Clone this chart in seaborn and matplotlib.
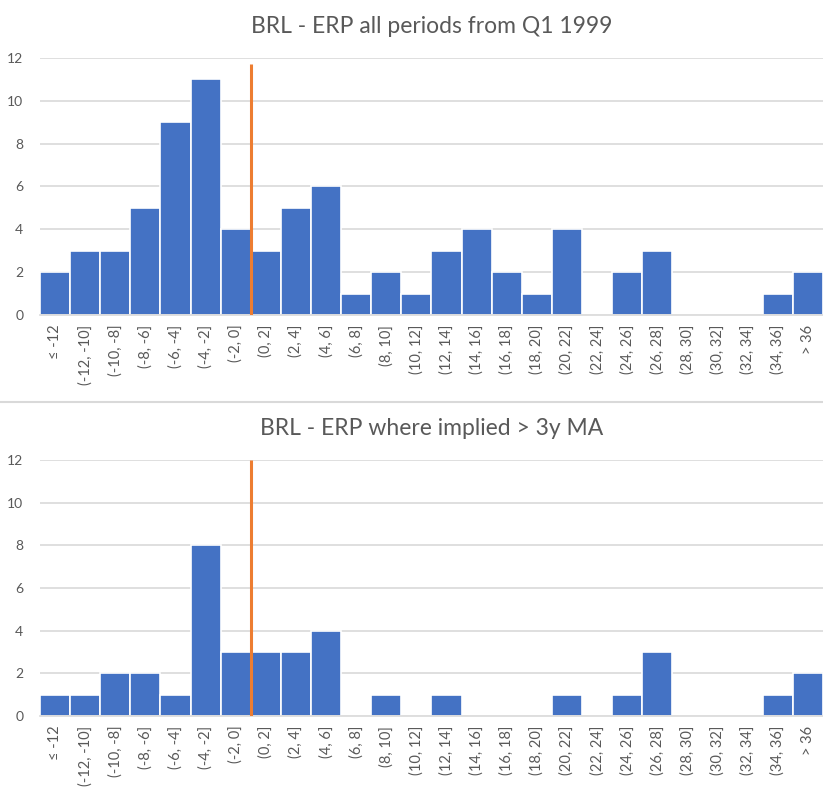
import numpy as np
import pandas as pd
import matplotlib
matplotlib.use("Agg")
import matplotlib.pyplot as plt
import seaborn as sns

# bins and counts
bins = ["≤ -12", "(-12, -10]", "(-10, -8]", "(-8, -6]", "(-6, -4]", "(-4, -2]", "(-2, 0]",
        "(0, 2]", "(2, 4]", "(4, 6]", "(6, 8]", "(8, 10]", "(10, 12]", "(12, 14]",
        "(14, 16]", "(16, 18]", "(18, 20]", "(20, 22]", "(22, 24]", "(24, 26]",
        "(26, 28]", "(28, 30]", "(30, 32]", "(32, 34]", "(34, 36]", "> 36"]
all_periods = [2, 3, 3, 5, 9, 11, 4, 3, 5, 6, 1, 2, 1, 3, 4, 2, 1, 4, 0, 2, 3, 0, 0, 0, 1, 2]
above_ma = [1, 1, 2, 2, 1, 8, 3, 3, 3, 4, 0, 1, 0, 1, 0, 0, 0, 1, 0, 1, 3, 0, 0, 0, 1, 2]
titles = ["BRL - ERP all periods from Q1 1999", "BRL - ERP where implied > 3y MA"]
zero_line_top = [11.7, 12]

sns.set_style("white")
plt.rcParams['font.family'] = ['Lato', 'DejaVu Sans']

BLUE = "#4472C4"
ORANGE = "#ED7D31"
GREY = "#595959"
GRID = "#D9D9D9"

fig = plt.figure(figsize=(8.23, 7.90), dpi=100)
ax_top = fig.add_axes([0.0486, 0.6013, 0.9514, 0.3253])
ax_bot = fig.add_axes([0.0486, 0.0937, 0.9514, 0.3240])

for ax, counts, title, ltop in zip([ax_top, ax_bot], [all_periods, above_ma], titles, zero_line_top):
    df = pd.DataFrame({"bin": bins, "count": counts})
    sns.barplot(data=df, x="bin", y="count", order=bins, color=BLUE, width=1.0,
                edgecolor="white", linewidth=1.2, saturation=1, ax=ax, zorder=2)
    ax.set_xlim(-0.5, len(bins) - 0.5)
    ax.set_ylim(0, 12)
    ax.set_yticks(np.arange(0, 13, 2))
    ax.yaxis.grid(True, color=GRID, linewidth=1.2, zorder=0)
    ax.set_axisbelow(True)
    for s in ["top", "right", "left"]:
        ax.spines[s].set_visible(False)
    ax.spines["bottom"].set_color(GRID)
    ax.spines["bottom"].set_linewidth(1.2)
    ax.tick_params(axis="x", rotation=90, labelsize=10.5, colors=GREY, length=0, pad=7)
    ax.tick_params(axis="y", labelsize=10, colors=GREY, length=0, pad=12)
    ax.set_xlabel("")
    ax.set_ylabel("")
    ax.set_title(title, fontsize=16.5, color=GREY, pad=18)
    # orange marker at zero ERP (boundary between (-2, 0] and (0, 2])
    ax.vlines(bins.index("(0, 2]") - 0.5, 0, ltop, color=ORANGE, linewidth=2.2, zorder=3)

# separator between panels
fig.add_artist(plt.Line2D([0, 1], [1 - 402 / 790, 1 - 402 / 790], color=GRID, linewidth=1.5))

fig.savefig("out.png", dpi=100, facecolor="white")
